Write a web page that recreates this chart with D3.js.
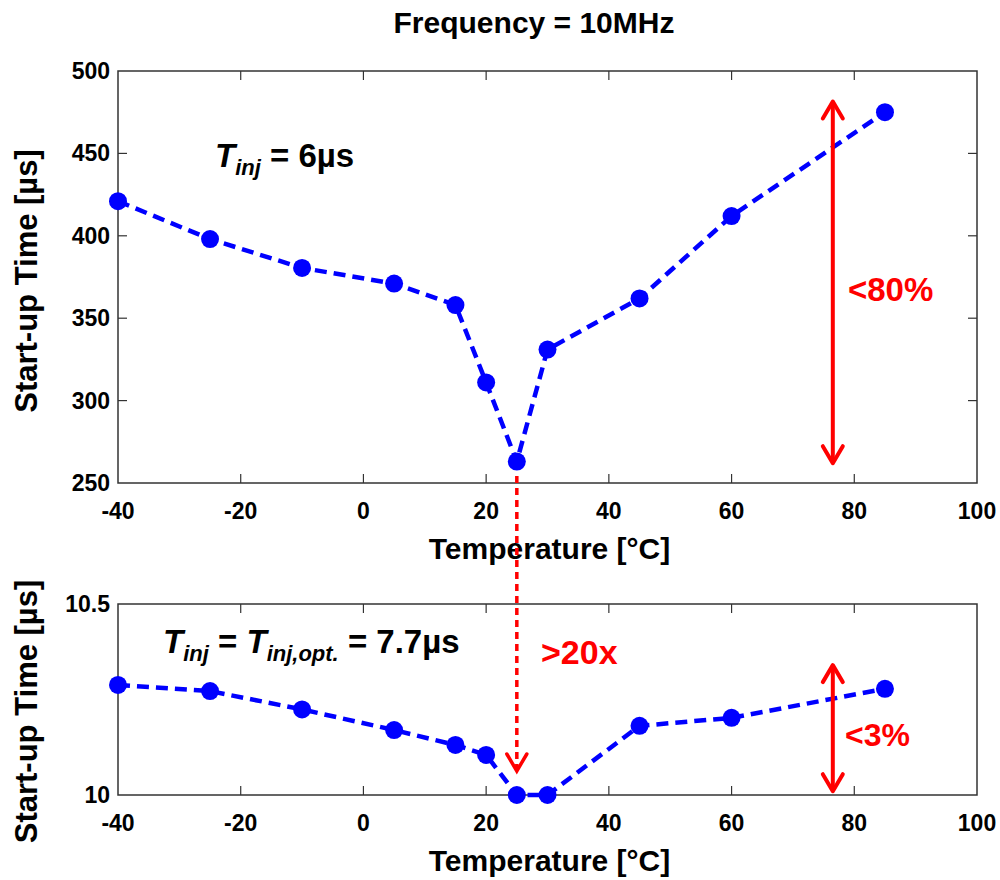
<!DOCTYPE html>
<html><head><meta charset="utf-8">
<script src="https://cdn.jsdelivr.net/npm/d3@7/dist/d3.min.js"></script>
<style>body{margin:0;background:#fff}text{font-family:"Liberation Sans",Arial,sans-serif;font-weight:bold}</style>
</head><body>
<svg id="c" width="1000" height="880"></svg>
<script>
const temps = [-40, -25, -10, 5, 15, 20, 25, 30, 45, 60, 85];
const startupTop = [421, 398, 380.5, 371, 358, 311, 263, 331, 362, 412, 475];
const startupBottom = [10.288, 10.272, 10.224, 10.17, 10.131, 10.105, 10.0, 10.0, 10.181, 10.202, 10.278];
const xTicks = [-40, -20, 0, 20, 40, 60, 80, 100];
const yTicksTop = [250, 300, 350, 400, 450, 500];
const yTicksBottom = [10, 10.5];
const yTickLabelsBottom = ["10", "10.5"];

const svg = d3.select("#c");
const x = d3.scaleLinear().domain([-40, 100]).range([118, 977]);
const yT = d3.scaleLinear().domain([250, 500]).range([483, 71]);
const yB = d3.scaleLinear().domain([10, 10.5]).range([795, 604]);

function panel(y, yTicks, yLabels, ylabOff) {
  const g = svg.append("g");
  const [y0, y1] = y.range();
  const [xl, xr] = x.range();
  const tl = 9;
  xTicks.forEach(t => {
    if (t === -40 || t === 100) return;
    g.append("line").attr("x1", x(t)).attr("x2", x(t)).attr("y1", y0).attr("y2", y0 - tl).attr("stroke", "#333").attr("stroke-width", 1.2);
    g.append("line").attr("x1", x(t)).attr("x2", x(t)).attr("y1", y1).attr("y2", y1 + tl).attr("stroke", "#333").attr("stroke-width", 1.2);
  });
  yTicks.forEach(t => {
    if (t === y.domain()[0] || t === y.domain()[1]) return;
    g.append("line").attr("x1", xl).attr("x2", xl + tl).attr("y1", y(t)).attr("y2", y(t)).attr("stroke", "#333").attr("stroke-width", 1.2);
    g.append("line").attr("x1", xr).attr("x2", xr - tl).attr("y1", y(t)).attr("y2", y(t)).attr("stroke", "#333").attr("stroke-width", 1.2);
  });
  g.append("rect").attr("x", xl).attr("y", y1).attr("width", xr - xl).attr("height", y0 - y1)
    .attr("fill", "none").attr("stroke", "#333").attr("stroke-width", 1.5);
  xTicks.forEach(t => {
    g.append("text").attr("x", x(t)).attr("y", y0 + 36).attr("text-anchor", "middle")
      .attr("font-size", 23).text(t);
  });
  yTicks.forEach((t, i) => {
    g.append("text").attr("x", xl - 8).attr("y", y(t) + 8).attr("text-anchor", "end")
      .attr("font-size", 23).text(yLabels[i]);
  });
  g.append("text").attr("x", (xl + xr) / 2 + 2).attr("y", y0 + 76).attr("text-anchor", "middle")
    .attr("font-size", 30).text("Temperature [°C]");
  g.append("text").attr("transform", `translate(37,${(y0 + y1) / 2 + ylabOff}) rotate(-90)`).attr("text-anchor", "middle")
    .attr("font-size", 31).text("Start-up Time [µs]");
}

panel(yT, yTicksTop, yTicksTop.map(String), 4);
panel(yB, yTicksBottom, yTickLabelsBottom, 12);

function series(y, vals) {
  const line = d3.line().x((d, i) => x(temps[i])).y(d => y(d));
  svg.append("path").attr("d", line(vals)).attr("fill", "none").attr("stroke", "#0000ff")
    .attr("stroke-width", 4.5).attr("stroke-dasharray", "12,7");
  svg.selectAll(null).data(vals).enter().append("circle")
    .attr("cx", (d, i) => x(temps[i])).attr("cy", d => y(d)).attr("r", 9).attr("fill", "#0000ff");
}
series(yT, startupTop);
series(yB, startupBottom);

// title
svg.append("text").attr("x", 534).attr("y", 33).attr("text-anchor", "middle").attr("font-size", 30)
  .text("Frequency = 10MHz");

// annotations
{
  const t = svg.append("text").attr("x", 215).attr("y", 167).attr("font-size", 33);
  t.append("tspan").attr("font-style", "italic").text("T");
  t.append("tspan").attr("font-style", "italic").attr("font-size", 22).attr("dy", 8).text("inj");
  t.append("tspan").attr("dy", -8).text(" = 6µs");
}
{
  const t = svg.append("text").attr("x", 163).attr("y", 653).attr("font-size", 33);
  t.append("tspan").attr("font-style", "italic").text("T");
  t.append("tspan").attr("font-style", "italic").attr("font-size", 22).attr("dy", 8).text("inj");
  t.append("tspan").attr("dy", -8).text(" = ");
  t.append("tspan").attr("font-style", "italic").text("T");
  t.append("tspan").attr("font-style", "italic").attr("font-size", 22).attr("dy", 8).text("inj,opt.");
  t.append("tspan").attr("dy", -8).text(" = 7.7µs");
}

function chevron(xp, yp, dir) {
  svg.append("path").attr("d", `M${xp - 10},${yp - dir * 17}L${xp},${yp}L${xp + 10},${yp - dir * 17}`)
    .attr("fill", "none").attr("stroke", "red").attr("stroke-width", 4).attr("stroke-linecap", "round").attr("stroke-linejoin", "round");
}
function dblArrow(xv, yA, yB2) {
  svg.append("line").attr("x1", xv).attr("x2", xv).attr("y1", yA + 2).attr("y2", yB2 - 2)
    .attr("stroke", "red").attr("stroke-width", 4);
  chevron(xv, yA, -1);
  chevron(xv, yB2, 1);
}
const arrowT = 76.5;
dblArrow(x(arrowT), yT(481.5), yT(262));
dblArrow(x(arrowT), yB(10.34), yB(10.01));
svg.append("text").attr("x", 848).attr("y", 301).attr("fill", "red").attr("font-size", 33).text("<80%");
svg.append("text").attr("x", 845).attr("y", 746).attr("fill", "red").attr("font-size", 32).text("<3%");

// dotted arrow
svg.append("line").attr("x1", x(25)).attr("x2", x(25)).attr("y1", 476).attr("y2", 768)
  .attr("stroke", "red").attr("stroke-width", 3.5).attr("stroke-dasharray", "7,5");
svg.append("path").attr("d", `M${x(25) - 10},${754}L${x(25)},${771}L${x(25) + 10},${754}`)
  .attr("fill", "none").attr("stroke", "red").attr("stroke-width", 3.5).attr("stroke-linecap", "round");
svg.append("text").attr("x", 541).attr("y", 664).attr("fill", "red").attr("font-size", 34).text(">20x");
</script>
</body></html>
